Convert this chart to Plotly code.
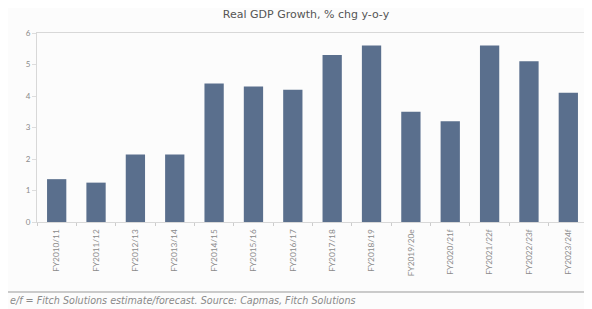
import plotly.graph_objects as go

categories = ["FY2010/11", "FY2011/12", "FY2012/13", "FY2013/14", "FY2014/15",
              "FY2015/16", "FY2016/17", "FY2017/18", "FY2018/19", "FY2019/20e",
              "FY2020/21f", "FY2021/22f", "FY2022/23f", "FY2023/24f"]
growth = [1.36, 1.25, 2.14, 2.14, 4.4, 4.3, 4.2, 5.3, 5.6, 3.5, 3.2, 5.6, 5.1, 4.1]
y_ticks = [0, 1, 2, 3, 4, 5, 6]

title_text = "Real GDP Growth, % chg y-o-y"
footer_text = "e/f = Fitch Solutions estimate/forecast. Source: Capmas, Fitch Solutions"

W, H = 584, 301
L, R, T, B = 29, 4, 25, 87
plot_h = H - T - B
plot_w = W - L - R

fig = go.Figure()
fig.add_trace(go.Bar(x=categories, y=growth, marker_color="#5a6f8d",
                     marker_line_width=0, width=0.49))

fig.update_layout(
    width=W, height=H,
    margin=dict(l=L, r=R, t=T, b=B, autoexpand=False),
    paper_bgcolor="#fcfcfc", plot_bgcolor="#fcfcfc",
    font=dict(family="Lato, Open Sans, sans-serif", color="#8a8a8a", size=8),
    title=dict(text=title_text, x=298 / W, xanchor="center", y=1 - 6 / H, yanchor="middle",
               font=dict(size=11, color="#555555", family="DejaVu Sans, sans-serif")),
    showlegend=False,
    bargap=0.5,
)
fig.update_xaxes(
    type="category", tickangle=-90,
    showline=True, linecolor="#d8d8d8", linewidth=1, mirror=True,
    ticks="outside", ticklen=3, tickcolor="#cccccc", tickson="boundaries",
    tickfont=dict(size=8.3, color="#8a8a8a"), ticklabelstandoff=3,
)
fig.update_yaxes(
    range=[0, 6], tickvals=y_ticks, showgrid=False,
    showline=True, linecolor="#d8d8d8", linewidth=1, mirror=True,
    ticks="outside", ticklen=4, tickcolor="#dddddd",
    tickfont=dict(size=8, color="#8a8a8a"), zeroline=False,
)
fig.add_shape(type="line", xref="paper", yref="paper", x0=-L / plot_w, x1=1 + R / plot_w,
              y0=-70 / plot_h, y1=-70 / plot_h, line=dict(color="#999999", width=1))
fig.add_annotation(text=footer_text, xref="paper", yref="paper", x=-L / plot_w, y=-78 / plot_h,
                   xanchor="left", yanchor="middle", showarrow=False,
                   font=dict(size=9.6, color="#8a8a8a", family="DejaVu Sans, sans-serif",
                             style="italic"))

fig.write_html("out.html")
